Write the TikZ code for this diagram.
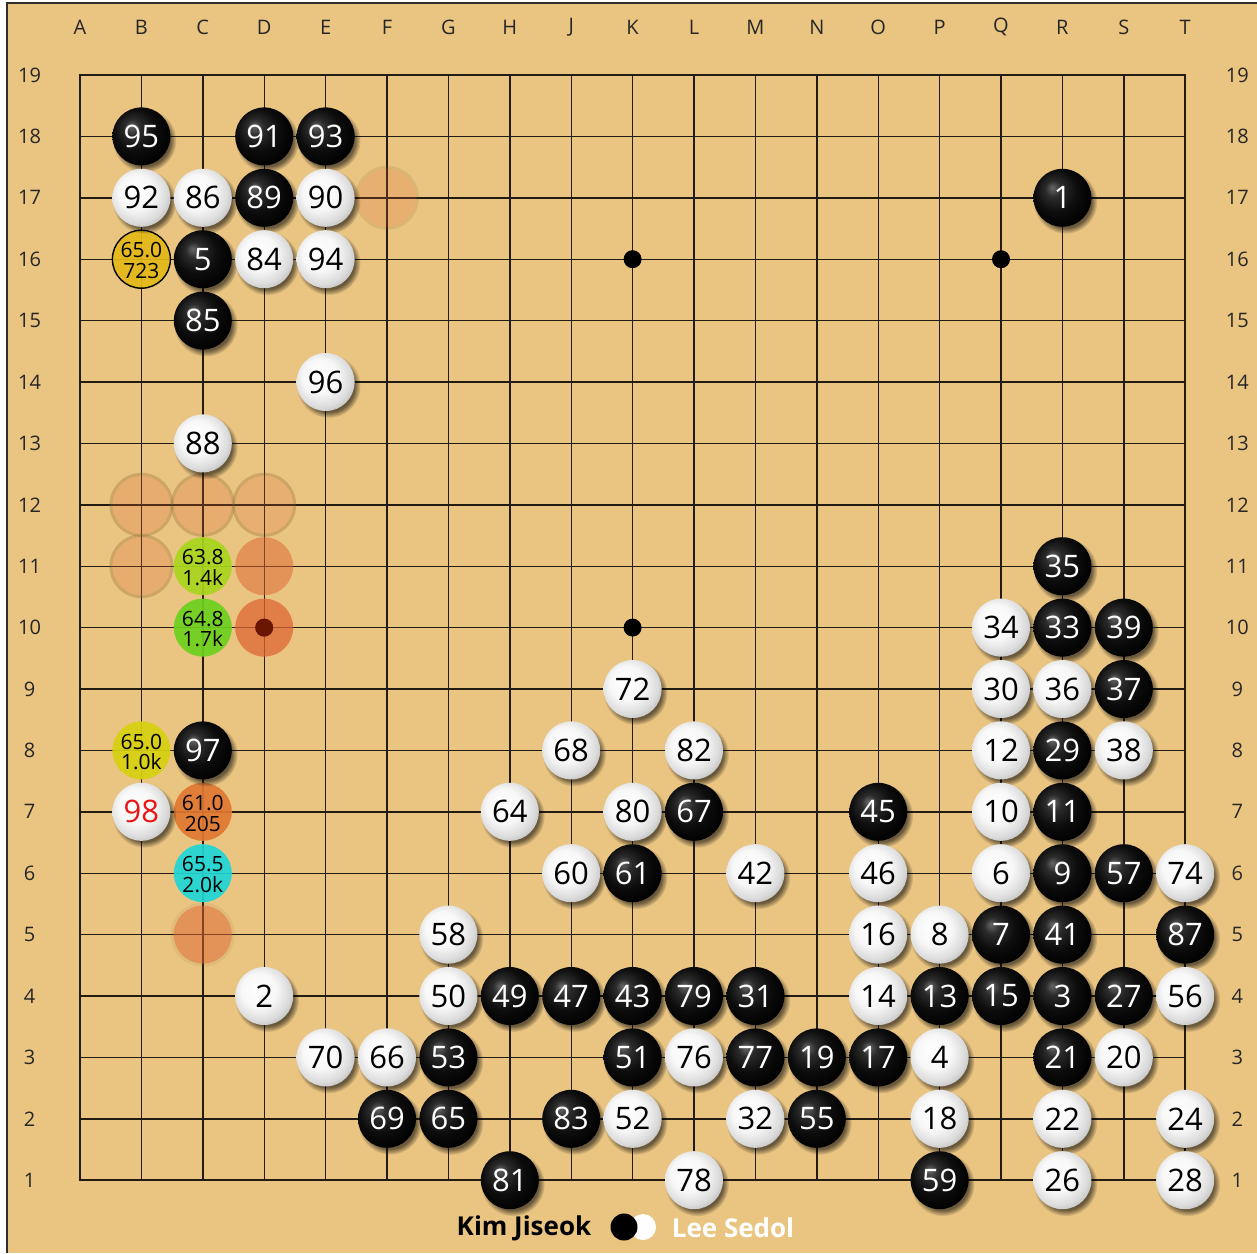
\documentclass[tikz,border=0pt]{standalone}
\usepackage{fontspec}
\setmainfont{Open Sans}
\usetikzlibrary{fadings}

\definecolor{wood}{RGB}{234,197,130}
\definecolor{edgecol}{RGB}{50,45,40}
\definecolor{gridcol}{RGB}{35,28,20}
\definecolor{ghostorange}{RGB}{223,102,51}
\definecolor{halocol}{RGB}{140,95,40}
\definecolor{maroon}{RGB}{105,22,4}
\definecolor{cgold}{RGB}{228,184,24}
\definecolor{cyg}{RGB}{168,214,30}
\definecolor{cgreen}{RGB}{108,208,30}
\definecolor{cyellow}{RGB}{214,208,16}
\definecolor{corange}{RGB}{224,120,50}
\definecolor{ccyan}{RGB}{30,214,214}
\definecolor{numred}{RGB}{235,20,20}

\pgfdeclareradialshading{bstone}{\pgfpoint{-9bp}{9bp}}{rgb(0bp)=(0.40,0.40,0.40); rgb(7bp)=(0.17,0.17,0.17); rgb(18bp)=(0.05,0.05,0.05); rgb(30bp)=(0,0,0); rgb(50bp)=(0,0,0)}
\pgfdeclareradialshading{wstone}{\pgfpoint{-7bp}{7bp}}{rgb(0bp)=(1,1,1); rgb(15bp)=(0.97,0.97,0.97); rgb(25bp)=(0.86,0.86,0.86); rgb(32bp)=(0.72,0.72,0.72); rgb(50bp)=(0.68,0.68,0.68)}

\tikzset{
  stone/.style={circle, minimum size=58pt, inner sep=0pt, font=\fontsize{31}{31}\selectfont},
  bst/.style={stone, shading=bstone, text=white},
  wst/.style={stone, shading=wstone, text=black},
  stoneshadow/.style={fill=black, opacity=0.55, path fading=circle with fuzzy edge 20 percent},
  cand/.style={circle, minimum size=58pt, inner sep=0pt, fill opacity=0.92},
  candtext/.style={align=center, text=black, inner sep=0pt,
    font=\fontsize{21}{20.5}\selectfont, yshift=-1.5pt},
  ghost/.style={circle, minimum size=58pt, inner sep=0pt, fill=ghostorange},
  lab/.style={font=\fontsize{20}{20}\selectfont, text=black!85},
  gridline/.style={draw=gridcol, line width=1.4pt},
  gridouter/.style={draw=gridcol, line width=1.7pt},
  hoshi/.style={circle, fill=black, minimum size=18pt, inner sep=0pt},
  player/.style={font=\fontsize{26}{26}\selectfont\bfseries},
}

\def\blacklist{2/18/95, 4/18/91, 5/18/93, 4/17/89, 3/16/5, 3/15/85, 17/17/1, 3/8/97,
 17/11/35, 17/10/33, 18/10/39, 18/9/37, 17/8/29, 17/7/11, 17/6/9, 18/6/57,
 16/5/7, 17/5/41, 19/5/87, 8/4/49, 9/4/47, 10/4/43, 11/4/79, 12/4/31, 15/4/13,
 16/4/15, 17/4/3, 18/4/27, 7/3/53, 10/3/51, 12/3/77, 13/3/19, 14/3/17, 17/3/21,
 6/2/69, 7/2/65, 9/2/83, 13/2/55, 8/1/81, 15/1/59, 10/6/61, 11/7/67, 14/7/45}
\def\whitelist{2/17/92, 3/17/86, 5/17/90, 4/16/84, 5/16/94, 5/14/96, 3/13/88,
 16/10/34, 16/9/30, 17/9/36, 16/8/12, 18/8/38, 16/7/10, 16/6/6, 19/6/74,
 14/5/16, 15/5/8, 4/4/2, 7/4/50, 14/4/14, 19/4/56, 5/3/70, 6/3/66, 11/3/76,
 15/3/4, 18/3/20, 10/2/52, 12/2/32, 15/2/18, 17/2/22, 19/2/24, 11/1/78,
 17/1/26, 19/1/28, 7/5/58, 9/6/60, 12/6/42, 14/6/46, 8/7/64, 10/7/80,
 9/8/68, 11/8/82, 10/9/72}

\begin{document}
\begin{tikzpicture}[x=1pt,y=-1pt]
\useasboundingbox (0,0) rectangle (1257,1253);
\fill[white] (0,0) rectangle (1257,1253);
\fill[wood] (7,3) rectangle (1257,1253);
\draw[edgecol, line width=2pt] (7,1253) -- (7,3) -- (1257,3);

\begin{scope}[shift={(80,75)}, x=61.4pt, y=-61.4pt]
  % grid
  \foreach \i in {1,...,17} {
    \draw[gridline] (\i,0) -- (\i,18);
    \draw[gridline] (0,\i) -- (18,\i);
  }
  \draw[gridouter] (0,0) rectangle (18,18);
  % coordinates
  \foreach \L [count=\i from 0] in {A,B,C,D,E,F,G,H,J,K,L,M,N,O,P,Q,R,S,T}
    \node[lab] (top\L) at (\i,-0.78) {\L};
  \foreach \r in {1,...,19} {
    \node[lab] (left\r) at (-0.82,19-\r) {\r};
    \node[lab] (right\r) at (18.85,19-\r) {\r};
  }
  % star points
  \foreach \hx in {3,9,15}
    \foreach \hy in {3,9,15}
      \node[hoshi] (h\hx-\hy) at (\hx,\hy) {};
  % translucent suggestion circles
  \foreach \c/\r/\op/\h in {6/17/0.22/0.15, 2/12/0.25/0.3, 3/12/0.25/0.3, 4/12/0.22/0.3, 2/11/0.25/0.3, 4/11/0.52/0, 4/10/0.75/0, 3/5/0.52/0.1} {
    \node[ghost, fill opacity=\op] (g\c-\r) at (\c-1,19-\r) {};
    \draw[halocol, opacity=\h, line width=3pt] (g\c-\r.center) circle (30.5pt);
  }
  \node[circle, fill=maroon, minimum size=18pt, inner sep=0pt] (d10dot) at (3,9) {};
  % candidate circles
  \foreach \cx/\cy/\col/\ta/\tb in {1/3/cgold/65.0/723, 2/8/cyg/63.8/1.4k, 2/9/cgreen/64.8/1.7k,
      1/11/cyellow/65.0/1.0k, 2/12/corange/61.0/205, 2/13/ccyan/65.5/2.0k} {
    \node[cand, fill=\col] (c\cx-\cy) at (\cx,\cy) {};
    \node[candtext] (t\cx-\cy) at (c\cx-\cy.center) {\ta\\\tb};
  }
  \draw[black, line width=1.4pt] (c1-3.center) circle (29pt);
  % shadows
  \foreach \c/\r/\n in \blacklist
    \fill[stoneshadow, xshift=3pt, yshift=-4pt] (\c-1,19-\r) circle (32pt);
  \foreach \c/\r/\n in \whitelist
    \fill[stoneshadow, xshift=3pt, yshift=-4pt] (\c-1,19-\r) circle (32pt);
  \fill[stoneshadow, xshift=3pt, yshift=-4pt] (1,12) circle (32pt);
  % stones
  \foreach \c/\r/\n in \blacklist
    \node[bst] (b\n) at (\c-1,19-\r) {\n};
  \foreach \c/\r/\n in \whitelist
    \node[wst] (w\n) at (\c-1,19-\r) {\n};
  \node[wst, text=numred] (w98) at (1,12) {98};
\end{scope}

% players
\node[player, text=black] (kim) at (524,1228) {Kim Jiseok};
\node[circle, fill=white, minimum size=26pt, inner sep=0pt] (wicon) at (643,1227) {};
\node[circle, fill=black, minimum size=27pt, inner sep=0pt] (bicon) at (624,1227) {};
\node[player, text=white] (lee) at (733,1228) {Lee Sedol};
\end{tikzpicture}
\end{document}
